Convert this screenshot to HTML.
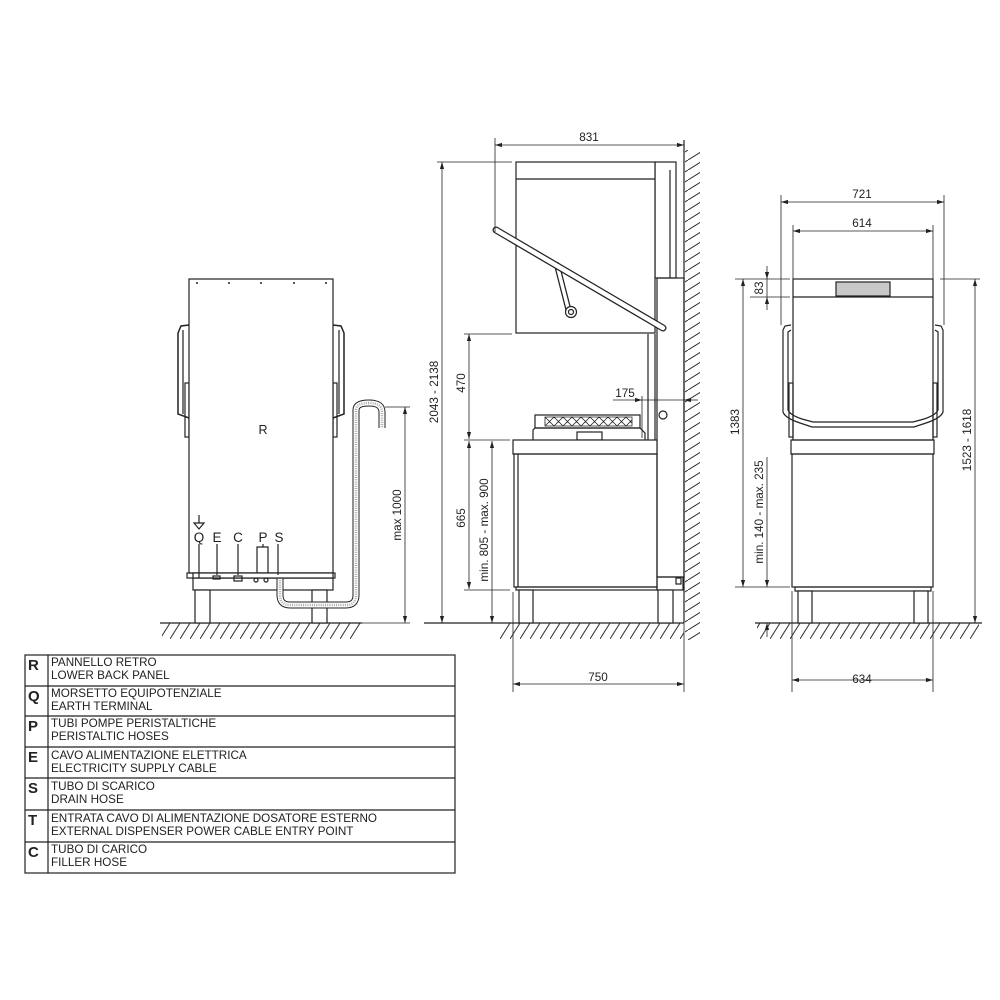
<!DOCTYPE html>
<html><head><meta charset="utf-8"><style>
html,body{margin:0;padding:0;background:#fff}
svg{display:block}
text{font-family:"Liberation Sans",Arial,sans-serif;fill:#222}
</style></head><body>
<svg width="1000" height="1000" viewBox="0 0 1000 1000" xmlns="http://www.w3.org/2000/svg">
<defs>
<pattern id="gh" width="10" height="16" patternUnits="userSpaceOnUse" patternTransform="translate(0,623)">
<line x1="0" y1="16" x2="10" y2="0" stroke="#333" stroke-width="1"/>
</pattern>
<pattern id="wh" width="16" height="10" patternUnits="userSpaceOnUse">
<line x1="0" y1="10" x2="16" y2="0" stroke="#333" stroke-width="1"/>
</pattern>
<marker id="a" viewBox="0 0 10 10" refX="10" refY="5" markerWidth="7" markerHeight="7" orient="auto-start-reverse" markerUnits="userSpaceOnUse">
<path d="M0,2 L10,5 L0,8 z" fill="#222"/>
</marker>
</defs>
<g fill="none" stroke="#222" stroke-width="1.2">

<!-- ============ LEFT (rear) VIEW ============ -->
<rect x="162" y="623" width="198" height="16" fill="url(#gh)" stroke="none"/>
<line x1="160" y1="623" x2="362" y2="623"/>
<!-- handles -->
<path d="M189,325 L181,326 L178,333 L178,414 L189,418" stroke-width="1.5"/>
<path d="M333,325 L341,326 L344,333 L344,414 L333,418" stroke-width="1.5"/>
<line x1="183" y1="330" x2="183" y2="414"/>
<line x1="339" y1="330" x2="339" y2="414"/>
<rect x="185" y="383" width="4" height="54"/>
<rect x="333" y="383" width="4" height="54"/>
<!-- body -->
<rect x="189" y="279" width="144" height="294" fill="#fff"/>
<g fill="#222" stroke="none">
<circle cx="197" cy="283" r="1"/><circle cx="229" cy="283" r="1"/><circle cx="261" cy="283" r="1"/><circle cx="294" cy="283" r="1"/><circle cx="326" cy="283" r="1"/>
</g>
<rect x="187" y="573" width="148" height="5"/>
<rect x="193" y="578" width="140" height="12"/>
<rect x="195" y="590" width="15" height="33" fill="#fff"/>
<rect x="312" y="590" width="15" height="33" fill="#fff"/>
<!-- hose -->
<path id="hose" d="M280,578 L280,595 Q280,605 290,605 L346,605 Q356,605 356,595 L356,410 Q356,403 369,403 Q382,403 382,412 L382,428" stroke="#222" stroke-width="7"/>
<path d="M280,578 L280,595 Q280,605 290,605 L346,605 Q356,605 356,595 L356,410 Q356,403 369,403 Q382,403 382,412 L382,428" stroke="#fff" stroke-width="5"/>
<path d="M280,578 L280,595 Q280,605 290,605 L346,605 Q356,605 356,595 L356,410 Q356,403 369,403 Q382,403 382,412 L382,428" stroke="#aaa" stroke-width="2.5" stroke-dasharray="1 1.2"/>
<rect x="193" y="573" width="140" height="5" fill="#fff" stroke="#222"/>
<!-- connectors -->
<path d="M199,544 L199,578 M217,544 L217,575 M238,544 L238,575 M263,544 L263,547 M278,544 L278,575"/>
<path d="M257,573 L257,547 L268,547 L268,573"/>
<rect x="213" y="576" width="7" height="3" />
<rect x="234" y="576" width="8" height="5"/>
<circle cx="256" cy="580" r="2"/><circle cx="266" cy="580" r="2"/>
<path d="M199,515 L199,523 M194,523 L204,523 L199,529 Z"/>
<!-- max 1000 dim -->
<line x1="385" y1="407" x2="410" y2="407" stroke-width="0.8"/>
<line x1="362" y1="623" x2="410" y2="623" stroke-width="0.8"/>
<line x1="405" y1="407" x2="405" y2="623" stroke-width="0.8" marker-start="url(#a)" marker-end="url(#a)"/>

<!-- ============ MIDDLE (side) VIEW ============ -->
<rect x="685" y="150" width="15" height="490" fill="url(#wh)" stroke="none"/>
<line x1="684" y1="140" x2="684" y2="623"/>
<rect x="500" y="623" width="184" height="16" fill="url(#gh)" stroke="none"/>
<line x1="424" y1="623" x2="684" y2="623"/>
<!-- column -->
<rect x="655" y="162" width="21" height="116"/>
<line x1="670" y1="170" x2="670" y2="278"/>
<rect x="657" y="278" width="27" height="299"/>
<rect x="657" y="577" width="26" height="13"/>
<rect x="676" y="578" width="5" height="6"/>
<!-- hood -->
<rect x="516" y="162" width="139" height="171" fill="#fff"/>
<line x1="516" y1="179" x2="655" y2="179"/>
<!-- arm -->
<path d="M557,265 L569,312" stroke-width="6" stroke-linecap="round"/>
<path d="M557,265 L569,312" stroke="#fff" stroke-width="3.5" stroke-linecap="round"/>
<circle cx="571" cy="312" r="5.5" fill="#fff"/><circle cx="571" cy="312" r="2.5"/>
<!-- handle bar -->
<path d="M496,230 L663,328" stroke-width="7" stroke-linecap="round"/>
<path d="M496,230 L663,328" stroke="#fff" stroke-width="4.5" stroke-linecap="round"/>
<!-- rod -->
<line x1="648" y1="334" x2="648" y2="440"/>
<line x1="655" y1="334" x2="655" y2="440"/>
<circle cx="663" cy="415" r="4"/>
<!-- rack -->
<rect x="535" y="415" width="105" height="13"/>
<path d="M545,417 L632,417 L632,426 L545,426 Z" stroke-width="0.8"/>
<path d="M545,417 l4.5,4.5 l-4.5,4.5 M549.5,421.5 l4.5,-4.5 M549.5,421.5 l4.5,4.5 M554,417 l4.5,4.5 l-4.5,4.5 M558.5,421.5 l4.5,-4.5 M558.5,421.5 l4.5,4.5 M563,417 l4.5,4.5 l-4.5,4.5 M567.5,421.5 l4.5,-4.5 M567.5,421.5 l4.5,4.5 M572,417 l4.5,4.5 l-4.5,4.5 M576.5,421.5 l4.5,-4.5 M576.5,421.5 l4.5,4.5 M581,417 l4.5,4.5 l-4.5,4.5 M585.5,421.5 l4.5,-4.5 M585.5,421.5 l4.5,4.5 M590,417 l4.5,4.5 l-4.5,4.5 M594.5,421.5 l4.5,-4.5 M594.5,421.5 l4.5,4.5 M599,417 l4.5,4.5 l-4.5,4.5 M603.5,421.5 l4.5,-4.5 M603.5,421.5 l4.5,4.5 M608,417 l4.5,4.5 l-4.5,4.5 M612.5,421.5 l4.5,-4.5 M612.5,421.5 l4.5,4.5 M617,417 l4.5,4.5 l-4.5,4.5 M621.5,421.5 l4.5,-4.5 M621.5,421.5 l4.5,4.5 M626,417 l4.5,4.5 l-4.5,4.5 M630.5,421.5 l1.5,-1.5 M630.5,421.5 l1.5,1.5" stroke-width="0.8"/>
<path d="M533,440 L533,430 L535,428 L640,428 L645,433 L645,440"/>
<rect x="577" y="432" width="25" height="8"/>
<!-- table -->
<rect x="513" y="440" width="144" height="14" fill="#fff"/>
<rect x="514" y="454" width="143" height="133"/>
<line x1="518" y1="454" x2="518" y2="587"/>
<rect x="516" y="587" width="141" height="3"/>
<rect x="519" y="590" width="14" height="33" fill="#fff"/>
<rect x="658" y="590" width="15" height="33" fill="#fff"/>
<!-- dims middle -->
<g stroke-width="0.8">
<line x1="495" y1="138" x2="495" y2="232"/>
<line x1="495" y1="145" x2="684" y2="145" marker-start="url(#a)" marker-end="url(#a)"/>
<line x1="437" y1="162" x2="512" y2="162"/>
<line x1="442" y1="162" x2="442" y2="623" marker-start="url(#a)" marker-end="url(#a)"/>
<line x1="464" y1="334" x2="512" y2="334"/>
<line x1="469" y1="334" x2="469" y2="439" marker-start="url(#a)" marker-end="url(#a)"/>
<line x1="464" y1="440" x2="510" y2="440"/>
<line x1="469" y1="441" x2="469" y2="589" marker-start="url(#a)" marker-end="url(#a)"/>
<line x1="464" y1="590" x2="510" y2="590"/>
<line x1="492" y1="441" x2="492" y2="623" marker-start="url(#a)" marker-end="url(#a)"/>
<line x1="642" y1="396" x2="642" y2="438"/>
<line x1="613" y1="400" x2="642" y2="400" marker-end="url(#a)"/>
<line x1="684" y1="400" x2="698" y2="400" marker-start="url(#a)"/>
<line x1="642" y1="400" x2="684" y2="400"/>
<line x1="513" y1="592" x2="513" y2="692"/>
<line x1="684" y1="623" x2="684" y2="692"/>
<line x1="513" y1="684" x2="684" y2="684" marker-start="url(#a)" marker-end="url(#a)"/>
</g>

<!-- ============ RIGHT (front) VIEW ============ -->
<rect x="757" y="623" width="222" height="16" fill="url(#gh)" stroke="none"/>
<line x1="755" y1="623" x2="982" y2="623"/>
<!-- handle -->
<path d="M791,325 L785,326 L783,330 L783,412 Q785,418 800,423 L812,427 L914,427 L926,423 Q941,418 943,412 L943,330 L941,326 L935,325"/>
<path d="M791,330 L788,332 L788,410 Q790,415 802,419 L813,422 L913,422 L924,419 Q936,415 938,410 L938,332 L935,330"/>
<rect x="789" y="383" width="4" height="54"/>
<rect x="933" y="383" width="4" height="54"/>
<rect x="793" y="279" width="140" height="161" fill="none"/>
<line x1="793" y1="297" x2="933" y2="297"/>
<rect x="836" y="282" width="54" height="14" fill="#c8c8c8"/>
<rect x="791" y="440" width="143" height="14"/>
<rect x="792" y="454" width="141" height="133"/>
<rect x="795" y="587" width="136" height="4"/>
<rect x="798" y="591" width="14" height="32" fill="#fff"/>
<rect x="914" y="591" width="14" height="32" fill="#fff"/>
<!-- dims right -->
<g stroke-width="0.8">
<line x1="781" y1="195" x2="781" y2="325"/>
<line x1="944" y1="195" x2="944" y2="325"/>
<line x1="781" y1="202" x2="944" y2="202" marker-start="url(#a)" marker-end="url(#a)"/>
<line x1="793" y1="225" x2="793" y2="279"/>
<line x1="933" y1="225" x2="933" y2="279"/>
<line x1="793" y1="231" x2="933" y2="231" marker-start="url(#a)" marker-end="url(#a)"/>
<line x1="735" y1="279" x2="790" y2="279"/>
<line x1="940" y1="279" x2="980" y2="279"/>
<line x1="750" y1="297" x2="790" y2="297"/>
<line x1="767" y1="266" x2="767" y2="279" marker-end="url(#a)"/>
<line x1="767" y1="310" x2="767" y2="297" marker-end="url(#a)"/>
<line x1="767" y1="279" x2="767" y2="297"/>
<line x1="743" y1="279" x2="743" y2="587" marker-start="url(#a)" marker-end="url(#a)"/>
<line x1="735" y1="587" x2="790" y2="587"/>
<line x1="767" y1="457" x2="767" y2="587" marker-end="url(#a)"/>
<line x1="767" y1="637" x2="767" y2="623" marker-end="url(#a)"/>
<line x1="975" y1="279" x2="975" y2="623" marker-start="url(#a)" marker-end="url(#a)"/>
<line x1="792" y1="591" x2="792" y2="692"/>
<line x1="933" y1="591" x2="933" y2="692"/>
<line x1="792" y1="680" x2="933" y2="680" marker-start="url(#a)" marker-end="url(#a)"/>
</g>

<!-- ============ LEGEND ============ -->
<rect x="25" y="655" width="430" height="218"/>
<line x1="48" y1="655" x2="48" y2="873"/>
<path d="M25,686 H455 M25,716 H455 M25,747 H455 M25,778 H455 M25,810 H455 M25,842 H455"/>
</g>

<!-- texts -->
<g font-size="11.7">
<text x="263" y="434" text-anchor="middle" font-size="12.5">R</text>
<g font-size="13.5" text-anchor="middle">
<text x="199" y="542">Q</text><text x="217" y="542">E</text><text x="238" y="542">C</text><text x="263" y="542">P</text><text x="279" y="542">S</text>
</g>
<text transform="translate(401,515) rotate(-90)" text-anchor="middle">max 1000</text>
<text x="589" y="141" text-anchor="middle">831</text>
<text transform="translate(438,392) rotate(-90)" text-anchor="middle">2043 - 2138</text>
<text transform="translate(465,383) rotate(-90)" text-anchor="middle">470</text>
<text transform="translate(465,518) rotate(-90)" text-anchor="middle">665</text>
<text transform="translate(488,530) rotate(-90)" text-anchor="middle">min. 805 - max. 900</text>
<text x="625" y="397" text-anchor="middle">175</text>
<text x="598" y="681" text-anchor="middle">750</text>
<text x="862" y="198" text-anchor="middle">721</text>
<text x="862" y="227" text-anchor="middle">614</text>
<text transform="translate(763,288) rotate(-90)" text-anchor="middle">83</text>
<text transform="translate(739,422) rotate(-90)" text-anchor="middle">1383</text>
<text transform="translate(763,512) rotate(-90)" text-anchor="middle">min. 140 - max. 235</text>
<text transform="translate(971,440) rotate(-90)" text-anchor="middle">1523 - 1618</text>
<text x="862" y="683" text-anchor="middle">634</text>
</g>
<g font-size="15" font-weight="bold">
<text x="28" y="670">R</text><text x="28" y="701">Q</text><text x="28" y="731">P</text><text x="28" y="762">E</text><text x="28" y="793">S</text><text x="28" y="825">T</text><text x="28" y="857">C</text>
</g>
<g font-size="11.7">
<text x="51" y="666">PANNELLO RETRO</text><text x="51" y="679">LOWER BACK PANEL</text>
<text x="51" y="697">MORSETTO EQUIPOTENZIALE</text><text x="51" y="710">EARTH TERMINAL</text>
<text x="51" y="727">TUBI POMPE PERISTALTICHE</text><text x="51" y="740">PERISTALTIC HOSES</text>
<text x="51" y="759">CAVO ALIMENTAZIONE ELETTRICA</text><text x="51" y="772">ELECTRICITY SUPPLY CABLE</text>
<text x="51" y="790">TUBO DI SCARICO</text><text x="51" y="803">DRAIN HOSE</text>
<text x="51" y="822">ENTRATA CAVO DI ALIMENTAZIONE DOSATORE ESTERNO</text><text x="51" y="835">EXTERNAL DISPENSER POWER CABLE ENTRY POINT</text>
<text x="51" y="853">TUBO DI CARICO</text><text x="51" y="866">FILLER HOSE</text>
</g>
</svg>
</body></html>
